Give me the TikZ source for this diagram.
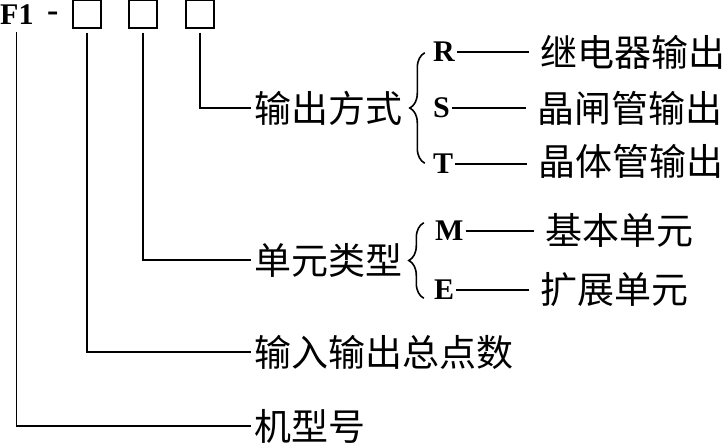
\documentclass[tikz,border=0pt]{standalone}
\usepackage{fontspec}
\setmainfont{Liberation Serif}
\newfontfamily\cjk{Noto Sans CJK SC}
\usepackage{tikz}
\usetikzlibrary{fit,positioning,decorations.pathreplacing}
\tikzset{
  cell/.style={draw, line width=1.1pt, minimum size=28pt, inner sep=0pt},
  lbl/.style={font=\cjk\fontsize{37}{37}\selectfont, inner ysep=0pt, inner xsep=3pt, anchor=west},
  key/.style={font=\bfseries\fontsize{30}{30}\selectfont, inner sep=0pt, anchor=west},
  wire/.style={line width=1.1pt},
  curly/.style={line width=1.6pt, decorate, decoration={brace, amplitude=15pt}},
}

\begin{document}
\begin{tikzpicture}[x=1pt, y=-1pt]
  \useasboundingbox (0,0) rectangle (724,444);
  % model code
  \node[key] (f1) at (0,15) {F1};
  \node[key, font=\bfseries\fontsize{34}{34}\selectfont] (dash) at (47,17) {-};
  \node[cell] (b1) at (87,14) {};
  \node[cell] (b2) at (143,14) {};
  \node[cell] (b3) at (200,14) {};
  % fields
  \node[lbl] (out) at (251,108) {输出方式};
  \node[lbl] (unit) at (251,260) {单元类型};
  \node[lbl] (io) at (251,352) {输入输出总点数};
  \node[lbl] (model) at (251,426) {机型号};
  \draw[wire] ([yshift=-4pt]b3.south) |- (out.west);
  \draw[wire] ([yshift=-4pt]b2.south) |- (unit.west);
  \draw[wire] ([yshift=-4pt]b1.south) |- (io.west);
  \draw[wire] ([yshift=-7pt]f1.south) |- (model.west);
  % output type
  \node[key] (r) at (433,52) {R};
  \node[key] (s) at (433,108) {S};
  \node[key] (t) at (433,164) {T};
  \node[lbl] (relay) at (537,52) {继电器输出};
  \node[lbl] (scr) at (534,108) {晶闸管输出};
  \node[lbl] (tran) at (535,161) {晶体管输出};
  \node[fit=(r)(t), inner ysep=-11pt, inner xsep=8pt] (sel1) {};
  \draw[curly] (sel1.south west) -- (sel1.north west);
  \foreach \a/\b in {r/relay, s/scr, t/tran}
    \draw[wire, shorten <=2pt, shorten >=8pt] (\a.east) -- (\a.east -| \b.west);
  % unit type
  \node[key] (m) at (435,231) {M};
  \node[key] (e) at (434,290) {E};
  \node[lbl] (basic) at (542,230) {基本单元};
  \node[lbl] (ext) at (537,290) {扩展单元};
  \node[fit=(m)(e), inner ysep=-2pt, inner xsep=10pt] (sel2) {};
  \draw[curly] (sel2.south west) -- (sel2.north west);
  \foreach \a/\b in {m/basic, e/ext}
    \draw[wire, shorten <=2pt, shorten >=8pt] (\a.east) -- (\a.east -| \b.west);
\end{tikzpicture}
\end{document}
